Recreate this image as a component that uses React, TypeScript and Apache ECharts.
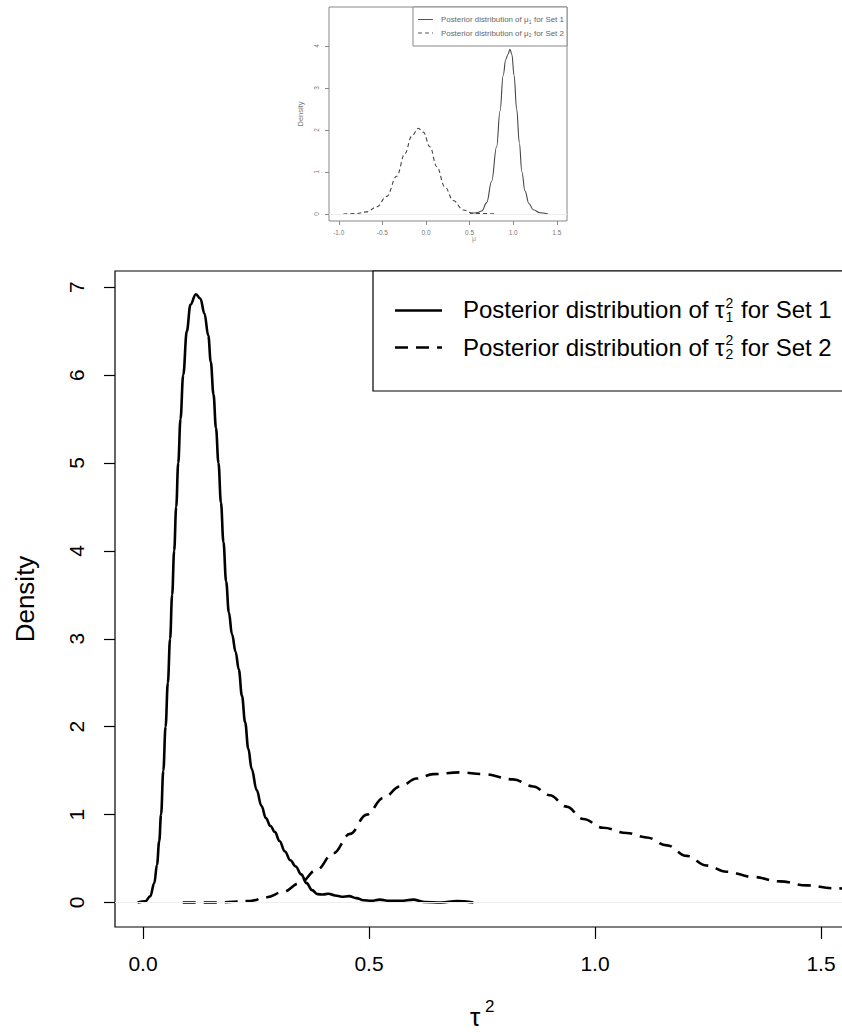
import React, { useEffect, useRef } from "react";
import * as echarts from "echarts";

// ---------- data ----------
// Main panel: posterior densities of tau^2
const set1Tau: [number, number][] = [
  [-0.012, 0], [0.005, 0.012], [0.016, 0.07], [0.025, 0.22], [0.031, 0.43], [0.036, 0.7],
  [0.04, 1.0], [0.045, 1.5], [0.05, 2.0], [0.055, 2.5], [0.06, 3.0], [0.0645, 3.5],
  [0.069, 4.0], [0.0735, 4.5], [0.078, 5.0], [0.083, 5.5], [0.089, 6.0], [0.097, 6.5],
  [0.105, 6.8], [0.117, 6.92], [0.127, 6.87], [0.136, 6.7], [0.1445, 6.45], [0.15, 6.15],
  [0.156, 5.78], [0.1615, 5.4], [0.167, 5.0], [0.1725, 4.55], [0.178, 4.1], [0.184, 3.65],
  [0.19, 3.3], [0.197, 3.05], [0.205, 2.85], [0.212, 2.65], [0.219, 2.35], [0.226, 2.05],
  [0.233, 1.75], [0.2405, 1.52], [0.2515, 1.28], [0.262, 1.1], [0.272, 0.96], [0.282, 0.87],
  [0.292, 0.8], [0.302, 0.7], [0.314, 0.58], [0.326, 0.48], [0.338, 0.41], [0.35, 0.32],
  [0.362, 0.22], [0.374, 0.14], [0.386, 0.095], [0.398, 0.09], [0.41, 0.1], [0.425, 0.08],
  [0.44, 0.065], [0.456, 0.072], [0.472, 0.05], [0.488, 0.026], [0.505, 0.02], [0.524, 0.033],
  [0.545, 0.018], [0.57, 0.018], [0.598, 0.033], [0.622, 0.006], [0.66, 0.0], [0.694, 0.015],
  [0.731, 0],
];
const set2Tau: [number, number][] = [
  [0.088, 0], [0.163, 0], [0.237, 0.017], [0.274, 0.06], [0.31, 0.12], [0.347, 0.22],
  [0.384, 0.37], [0.421, 0.56], [0.458, 0.78], [0.495, 1.0], [0.532, 1.19], [0.569, 1.32],
  [0.6055, 1.41], [0.642, 1.46], [0.701, 1.48], [0.753, 1.46], [0.819, 1.4], [0.8635, 1.32],
  [0.9, 1.22], [0.937, 1.09], [0.974, 0.95], [1.018, 0.85], [1.07, 0.79], [1.114, 0.74],
  [1.159, 0.65], [1.203, 0.53], [1.247, 0.42], [1.291, 0.35], [1.35, 0.29], [1.409, 0.24],
  [1.468, 0.195], [1.527, 0.162], [1.6, 0.14],
];
const tauTicks = [0, 0.5, 1, 1.5];
const tauDensityTicks = [0, 1, 2, 3, 4, 5, 6, 7];

// Inset panel: posterior densities of mu
const set1Mu: [number, number][] = [
  [0.505, 0.016], [0.58, 0.03], [0.64, 0.07], [0.696, 0.27], [0.753, 0.78], [0.81, 1.6],
  [0.849, 2.45], [0.885, 3.3], [0.915, 3.68], [0.94, 3.8], [0.963, 3.92], [0.985, 3.8],
  [1.01, 3.3], [1.04, 2.5], [1.07, 1.7], [1.1, 1.0], [1.135, 0.55], [1.18, 0.25],
  [1.23, 0.1], [1.307, 0.03], [1.4, 0],
];
const set2Mu: [number, number][] = [
  [-0.948, 0], [-0.8, 0.01], [-0.68, 0.05], [-0.565, 0.17], [-0.45, 0.42], [-0.336, 0.9],
  [-0.241, 1.44], [-0.164, 1.85], [-0.088, 2.04], [-0.031, 1.95], [0.046, 1.6], [0.123, 1.13],
  [0.218, 0.64], [0.313, 0.32], [0.428, 0.095], [0.542, 0.016], [0.81, 0],
];
const muTicks = [-1, -0.5, 0, 0.5, 1, 1.5];
const muDensityTicks = [0, 1, 2, 3, 4];

// ---------- helpers ----------
const FAMILY = '"Liberation Sans", Arial, Helvetica, sans-serif';

function measure(text: string, size: number): number {
  const ctx = document.createElement("canvas").getContext("2d");
  if (!ctx) return text.length * size * 0.5;
  ctx.font = `${size}px ${FAMILY}`;
  return ctx.measureText(text).width;
}

function txt(x: number, y: number, text: string, size: number, color: string, align = "left", extra: any = {}) {
  return {
    type: "text",
    x,
    y,
    silent: true,
    ...extra,
    style: { text, fill: color, fontSize: size, fontFamily: FAMILY, align, verticalAlign: "middle" },
  };
}

function legendLine(x0: number, yMid: number, head: string, sup: string, sub: string, tail: string,
  size: number, sSize: number, supDy: number, subDy: number, color: string) {
  const wA = measure(head, size);
  const wS = Math.max(sup ? measure(sup, sSize) : 0, sub ? measure(sub, sSize) : 0);
  const xs = x0 + wA + size * 0.04;
  const out: any[] = [txt(x0, yMid, head, size, color)];
  if (sup) out.push(txt(xs, yMid + supDy, sup, sSize, color));
  if (sub) out.push(txt(xs, yMid + subDy, sub, sSize, color));
  out.push(txt(xs + wS + size * 0.04, yMid, tail, size, color));
  return out;
}

function buildOption(): any {
  const L = 24; // main legend font size
  const graphics: any[] = [
    // ---- main legend ----
    { type: "rect", shape: { x: 373, y: 271, width: 479, height: 120 }, style: { fill: "#fff", stroke: "#000", lineWidth: 1.2 }, z: 10 },
    { type: "line", shape: { x1: 395, y1: 310.5, x2: 442, y2: 310.5 }, style: { stroke: "#000", lineWidth: 2.6 }, z: 11 },
    { type: "line", shape: { x1: 395, y1: 347.5, x2: 442, y2: 347.5 }, style: { stroke: "#000", lineWidth: 2.6, lineDash: [13, 8] }, z: 11 },
    ...legendLine(463, 309.5, "Posterior distribution of \u03c4", "2", "1", " for Set 1", L, 14, -7, 7, "#000").map((g) => ({ ...g, z: 11 })),
    ...legendLine(463, 347, "Posterior distribution of \u03c4", "2", "2", " for Set 2", L, 14, -7, 7, "#000").map((g) => ({ ...g, z: 11 })),
    // ---- main axis titles ----
    txt(25, 599, "Density", 26, "#000", "center", { rotation: Math.PI / 2 }),
    txt(470, 1017, "\u03c4", 26, "#000"),
    txt(485, 1006, "2", 17, "#000"),
    // ---- inset legend ----
    { type: "rect", shape: { x: 413, y: 7, width: 154, height: 39 }, style: { fill: "#fff", stroke: "#888", lineWidth: 1 }, z: 10 },
    { type: "line", shape: { x1: 418, y1: 19.5, x2: 433, y2: 19.5 }, style: { stroke: "#555", lineWidth: 1 }, z: 11 },
    { type: "line", shape: { x1: 418, y1: 33, x2: 433, y2: 33 }, style: { stroke: "#555", lineWidth: 1, lineDash: [4, 3] }, z: 11 },
    ...legendLine(441, 19.5, "Posterior distribution of \u03bc", "", "1", " for Set 1", 7.9, 5, 0, 2, "#666").map((g) => ({ ...g, z: 11 })),
    ...legendLine(441, 33, "Posterior distribution of \u03bc", "", "2", " for Set 2", 7.9, 5, 0, 2, "#666").map((g) => ({ ...g, z: 11 })),
    // ---- inset axis titles ----
    txt(300, 114, "Density", 7.5, "#777", "center", { rotation: Math.PI / 2 }),
    txt(474, 238, "\u03bc", 7, "#999", "center"),
  ];

  const fmt1 = (v: number) => v.toFixed(1);
  const zeroLine = (color: string) => ({
    silent: true,
    symbol: "none",
    label: { show: false },
    lineStyle: { color, width: 1, type: "solid" },
    data: [{ yAxis: 0 }],
  });

  return {
    animation: false,
    backgroundColor: "#fff",
    textStyle: { fontFamily: FAMILY },
    grid: [
      { left: 329, top: 7, width: 238, height: 214, show: true, borderColor: "#888", borderWidth: 1, backgroundColor: "transparent" },
      { left: 115, top: 271, width: 737, height: 656, show: true, borderColor: "#000", borderWidth: 1.2, backgroundColor: "transparent" },
    ],
    xAxis: [
      {
        gridIndex: 0, type: "value", min: -1.112, max: 1.617,
        axisLine: { show: false, onZero: false }, splitLine: { show: false },
        axisTick: { show: true, length: 4, lineStyle: { color: "#888" }, customValues: muTicks },
        axisLabel: { customValues: muTicks, formatter: fmt1, fontSize: 6.5, color: "#777", margin: 8, fontFamily: FAMILY },
      },
      {
        gridIndex: 1, type: "value", min: -0.0619, max: 1.5686,
        axisLine: { show: false, onZero: false }, splitLine: { show: false },
        axisTick: { show: true, length: 12, lineStyle: { color: "#000", width: 1.2 }, customValues: tauTicks },
        axisLabel: { customValues: tauTicks, formatter: fmt1, fontSize: 21, color: "#000", margin: 26, fontFamily: FAMILY },
      },
    ],
    yAxis: [
      {
        gridIndex: 0, type: "value", min: -0.167, max: 4.93,
        axisLine: { show: false, onZero: false }, splitLine: { show: false },
        axisTick: { show: true, length: 4, lineStyle: { color: "#888" }, customValues: muDensityTicks },
        axisLabel: { customValues: muDensityTicks, formatter: (v: number) => String(v), rotate: 90, fontSize: 6.5, color: "#777", margin: 9, fontFamily: FAMILY },
      },
      {
        gridIndex: 1, type: "value", min: -0.279, max: 7.184,
        axisLine: { show: false, onZero: false }, splitLine: { show: false },
        axisTick: { show: true, length: 11, lineStyle: { color: "#000", width: 1.2 }, customValues: tauDensityTicks },
        axisLabel: { customValues: tauDensityTicks, formatter: (v: number) => String(v), rotate: 90, fontSize: 21, color: "#000", margin: 28, fontFamily: FAMILY },
      },
    ],
    series: [
      {
        name: "mu1", type: "line", xAxisIndex: 0, yAxisIndex: 0, data: set1Mu, showSymbol: false,
        smooth: 0.4, smoothMonotone: "x", lineStyle: { color: "#444", width: 1.1 },
        markLine: zeroLine("#eeeeee"),
      },
      {
        name: "mu2", type: "line", xAxisIndex: 0, yAxisIndex: 0, data: set2Mu, showSymbol: false,
        smooth: 0.4, smoothMonotone: "x", lineStyle: { color: "#444", width: 1.1, type: [4, 3] },
      },
      {
        name: "tau1", type: "line", xAxisIndex: 1, yAxisIndex: 1, data: set1Tau, showSymbol: false,
        smooth: 0.4, smoothMonotone: "x", lineStyle: { color: "#000", width: 2.6 },
        markLine: zeroLine("#eeeeee"),
      },
      {
        name: "tau2", type: "line", xAxisIndex: 1, yAxisIndex: 1, data: set2Tau, showSymbol: false,
        smooth: 0.4, smoothMonotone: "x", lineStyle: { color: "#000", width: 2.6, type: [13, 8] },
      },
    ],
    graphic: graphics,
  };
}

export default function App() {
  const ref = useRef<HTMLDivElement>(null);
  useEffect(() => {
    if (!ref.current) return;
    const chart = echarts.init(ref.current, null, { renderer: "svg" });
    chart.setOption(buildOption());
    return () => chart.dispose();
  }, []);
  return (
    <div style={{ position: "absolute", left: 0, top: 0, width: 842, height: 1032, overflow: "hidden", background: "#fff" }}>
      <div ref={ref} style={{ width: 860, height: 1032 }} />
    </div>
  );
}
